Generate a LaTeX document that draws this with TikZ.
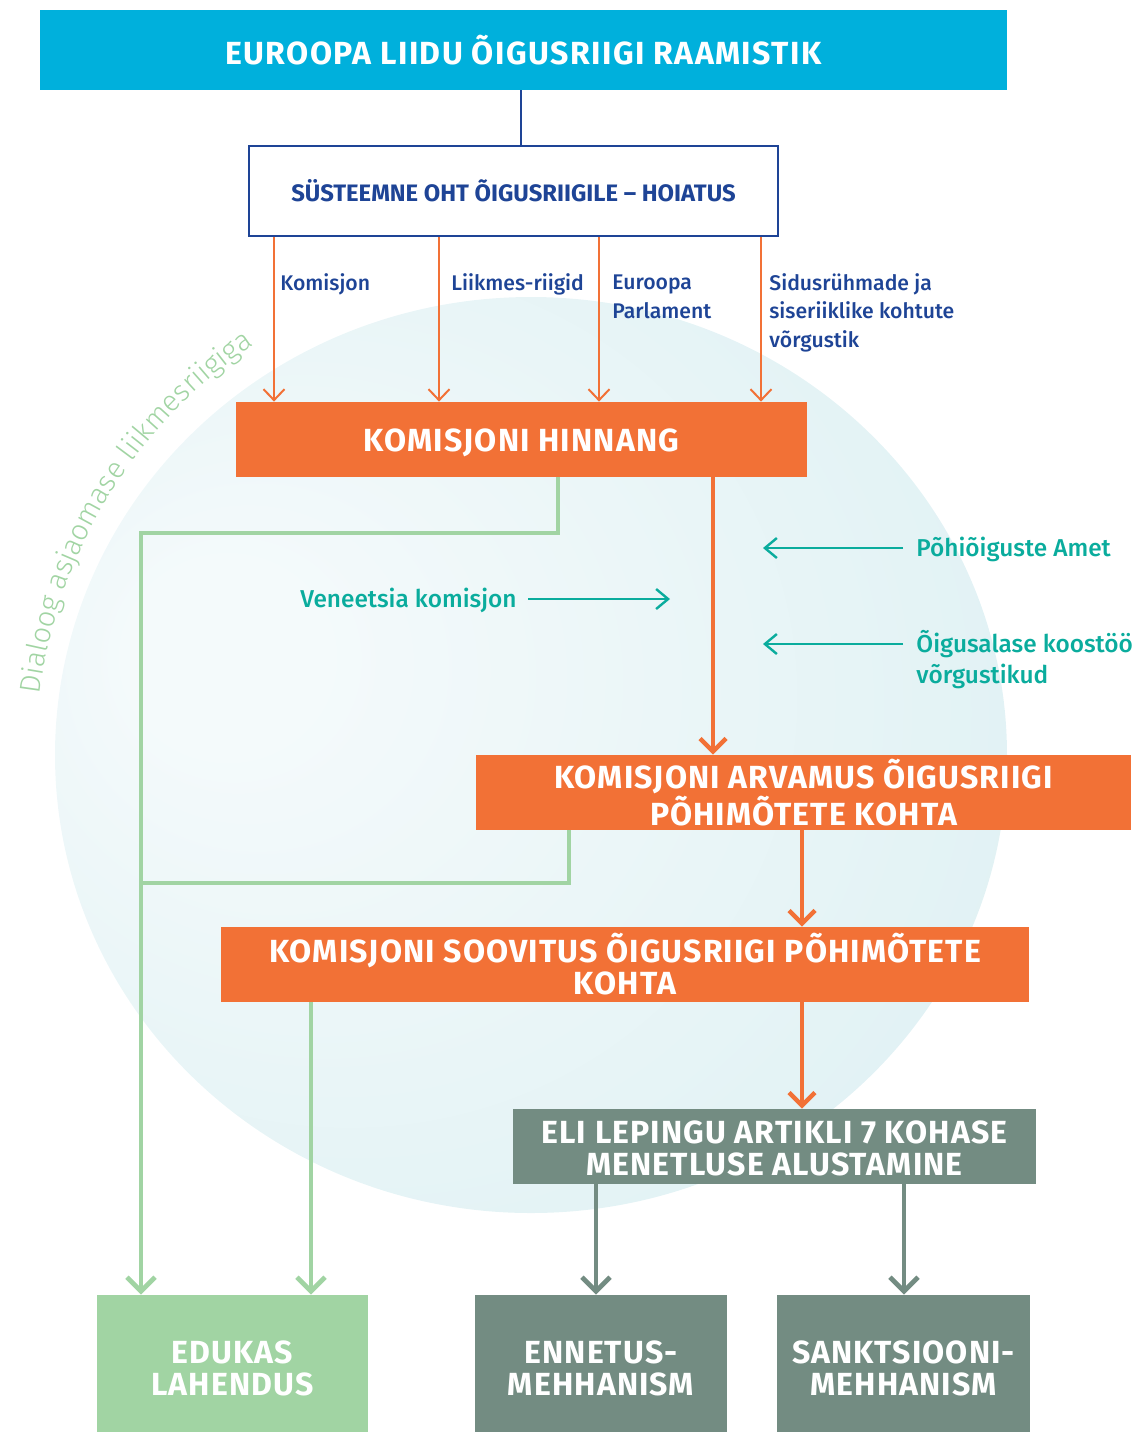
\documentclass[tikz,border=0pt]{standalone}
\usepackage{fontspec}
\setmainfont{Fira Sans}
\newfontfamily\boxfam[LetterSpace=3.5]{Fira Sans}
\newfontfamily\titlefam[LetterSpace=4.5]{Fira Sans}
\newfontfamily\lightfam{Fira Sans Light}
\newfontfamily\medfam{Fira Sans Medium}
\usetikzlibrary{arrows.meta,decorations.text}
\definecolor{cyanT}{RGB}{0,176,220}
\definecolor{navyT}{RGB}{30,68,150}
\definecolor{orngT}{RGB}{242,113,54}
\definecolor{grnT}{RGB}{161,212,163}
\definecolor{gryT}{RGB}{115,140,130}
\definecolor{tealT}{RGB}{10,172,157}
\definecolor{cinT}{RGB}{244,250,251}
\definecolor{coutT}{RGB}{219,239,242}
\pgfdeclareradialshading{glow}{\pgfpoint{-18bp}{6bp}}{color(0bp)=(cinT); color(5bp)=(cinT); color(42bp)=(coutT); color(50bp)=(coutT)}
\newcommand\bst[1]{\rule{0pt}{#1}}
\begin{document}
\begin{tikzpicture}[x=0.5pt,y=-0.5pt,
  boxst/.style={rectangle, inner sep=0pt, text=white, align=center,
    font=\boxfam\bfseries\fontsize{16}{16}\selectfont},
  orbox/.style={boxst, fill=orngT, minimum height=37.5pt},
  grbox/.style={boxst, fill=gryT},
  lbl/.style={inner sep=0pt, text=navyT, align=left, font=\medfam\fontsize{10.6}{14.25}\selectfont},
  tlbl/.style={inner sep=0pt, text=tealT, align=left, font=\medfam\fontsize{12.2}{15.5}\selectfont},
  othin/.style={draw=orngT, line width=1pt, -{Straight Barb[length=5.5pt,width=10.5pt]}},
  othick/.style={draw=orngT, line width=2.2pt, -{Straight Barb[length=6.5pt,width=13pt]}},
  gline/.style={draw=grnT, line width=2.4pt},
  garrow/.style={gline, -{Straight Barb[length=7pt,width=14pt]}},
  gyarrow/.style={draw=gryT, line width=2.4pt, -{Straight Barb[length=7pt,width=14pt]}},
  tarrow/.style={draw=tealT, line width=1.2pt, -{Straight Barb[length=6pt,width=10pt]}}
]
\useasboundingbox (0,0) rectangle (1144,1432);
% background disc
\shade[shading=glow] (531,755) ellipse [x radius=476, y radius=458];
% curved dialog text
\path[decorate, decoration={text along path, text color=grnT,
   text={|\lightfam\fontsize{14.5}{15}\selectfont|Dialoog asjaomase liikmesriigiga}, text align=center}]
   (531,755) ++(181:495) arc[start angle=181, end angle=242, radius=495];

% nodes
\node[boxst, fill=cyanT, minimum width=483.5pt, minimum height=40pt,
  font=\titlefam\bfseries\fontsize{16}{16}\selectfont] (top) at (523.5,50) {\bst{13pt}EUROOPA LIIDU ÕIGUSRIIGI RAAMISTIK};
\node[rectangle, draw=navyT, line width=1.2pt, fill=white, minimum width=264.5pt, minimum height=45pt,
  text=navyT, font=\bfseries\fontsize{11.9}{14}\selectfont] (warn) at (513.5,191) {SÜSTEEMNE OHT ÕIGUSRIIGILE – HOIATUS};
\node[orbox, minimum width=285.5pt] (hinn) at (521.5,439.5) {\bst{15pt}KOMISJONI HINNANG};
\node[orbox, minimum width=327.5pt] (arv) at (803.5,792.5) {KOMISJONI ARVAMUS ÕIGUSRIIGI\\PÕHIMÕTETE KOHTA};
\node[orbox, minimum width=404pt] (soov) at (625,964.5) {KOMISJONI SOOVITUS ÕIGUSRIIGI PÕHIMÕTETE\\KOHTA};
\node[grbox, minimum width=261.5pt, minimum height=37.5pt] (eli) at (774.5,1146.5) {\bst{13.5pt}ELI LEPINGU ARTIKLI 7 KOHASE\\MENETLUSE ALUSTAMINE};
\node[boxst, fill=grnT, minimum width=135.5pt, minimum height=68.5pt] (edu) at (232.5,1363.5) {\bst{16pt}EDUKAS\\LAHENDUS};
\node[grbox, minimum width=126pt, minimum height=68.5pt] (enn) at (601,1363.5) {\bst{16pt}ENNETUS-\\MEHHANISM};
\node[grbox, minimum width=126.5pt, minimum height=68.5pt] (sank) at (903.5,1363.5) {\bst{16pt}SANKTSIOONI-\\MEHHANISM};

% source labels (base = baseline of last line)
\node[lbl, anchor=base west] (lkom) at (280,290) {Komisjon};
\node[lbl, anchor=base west] (lliik) at (451,290) {Liikmes-riigid};
\node[lbl, anchor=base west] (lep) at (612,318) {Euroopa\\Parlament};
\node[lbl, anchor=base west] (lsid) at (769,347) {Sidusrühmade ja\\siseriiklike kohtute\\võrgustik};

% teal labels
\node[tlbl, anchor=base west] (pohi) at (916,556) {Põhiõiguste Amet};
\node[tlbl, anchor=base west] (ven) at (300,607) {Veneetsia komisjon};
\node[tlbl, anchor=base west] (oig) at (916,683) {Õigusalase koostöö\\võrgustikud};

% connectors
\draw[draw=navyT, line width=1.2pt] (521,0 |- top.south) -- (521,0 |- warn.north);
\foreach \xx in {274,439,599,761}
  \draw[othin] (\xx,0 |- warn.south) -- (\xx,0 |- hinn.north);
\draw[othick] (713,0 |- hinn.south) -- (713,0 |- arv.north);
\draw[othick] (802,0 |- arv.south) -- (802,0 |- soov.north);
\draw[othick] (802,0 |- soov.south) -- (802,0 |- eli.north);
\draw[gline] (569,0 |- arv.south) |- (141,883);
\draw[garrow] (558,0 |- hinn.south) |- (141,533) -- (141,0 |- edu.north);
\draw[garrow] (311,0 |- soov.south) -- (311,0 |- edu.north);
\draw[gyarrow] (596,0 |- eli.south) -- (596,0 |- enn.north);
\draw[gyarrow] (904,0 |- eli.south) -- (904,0 |- sank.north);

\coordinate (p1s) at (903,548); \coordinate (p1e) at (763,548);
\coordinate (p2s) at (528,599); \coordinate (p2e) at (670,599);
\coordinate (p3s) at (903,644); \coordinate (p3e) at (763,644);
\draw[tarrow] (p1s) -- (p1e);
\draw[tarrow] (p2s) -- (p2e);
\draw[tarrow] (p3s) -- (p3e);
\end{tikzpicture}
\end{document}
